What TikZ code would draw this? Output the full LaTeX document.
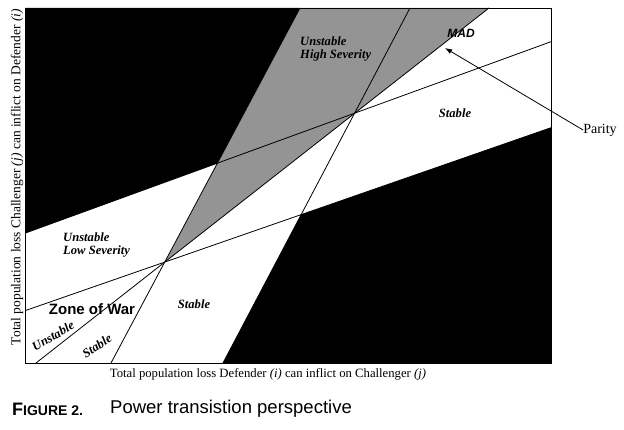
\documentclass[tikz,border=0pt]{standalone}
\usepackage{fontspec}
\setmainfont{Liberation Serif}
\setsansfont{Liberation Sans}
\usetikzlibrary{arrows.meta}
\tikzset{
  boundary/.style={line width=0.8pt},
  regionlabel/.style={font=\fontsize{12.6}{13.5}\selectfont\bfseries\itshape, align=left, inner sep=0pt},
  zonelabel/.style={font=\sffamily\bfseries\fontsize{15}{16}\selectfont, inner sep=0pt},
  axislabel/.style={font=\fontsize{12.7}{13.5}\selectfont, inner sep=0pt}
}
\begin{document}
\begin{tikzpicture}[x=1pt,y=-1pt]
\useasboundingbox (0,0) rectangle (624,430);
% frame corners
\coordinate (tl) at (25,8);
\coordinate (tr) at (551,8);
\coordinate (br) at (551,363);
\coordinate (bl) at (25,363);
% the two crossing points
\coordinate (p1) at (165,262);
\coordinate (p2) at (355,113);
% ends of the five lines
\coordinate (a0) at (111,363);   \coordinate (a1) at (300,8);
\coordinate (b0) at (36,363);    \coordinate (b1) at (489,8);
\coordinate (c0) at (25,310.7);  \coordinate (c1) at (551,127.7);
\coordinate (d0) at (223,363);   \coordinate (d1) at (410,8);
\coordinate (e0) at (25,233.2);  \coordinate (e1) at (551,41.7);
\coordinate (ae) at (intersection of a0--a1 and e0--e1);
\coordinate (cd) at (intersection of c0--c1 and d0--d1);

% shaded regions
\fill[black] (tl) -- (a1) -- (ae) -- (e0) -- cycle;
\fill[black] (d0) -- (cd) -- (c1) -- (br) -- cycle;
\fill[black!42] (p1) -- (a1) -- (b1) -- cycle;

\draw[boundary] (a0) -- (a1);
\draw[boundary] (b0) -- (b1);
\draw[boundary] (c0) -- (c1);
\draw[boundary] (d0) -- (d1);
\draw[boundary] (e0) -- (e1);
\draw[boundary] (tl) rectangle (br);

% region labels
\node[regionlabel, anchor=west] (lowsev) at (63,245) {Unstable\\Low Severity};
\node[regionlabel, anchor=west] (highsev) at (300,49) {Unstable\\High Severity};
\node[font=\sffamily\bfseries\itshape\fontsize{12}{13}\selectfont, inner sep=0pt] (mad) at (461,33) {MAD};
\node[regionlabel] (stableup) at (455,113) {Stable};
\node[regionlabel] (stablemid) at (194,304) {Stable};
\node[zonelabel] (war) at (92,309) {Zone of War};
\node[regionlabel, rotate=30] (unstablelow) at (53,336) {Unstable};
\node[regionlabel, rotate=33] (stablelow) at (97,346) {Stable};

% parity pointer
\coordinate (tip) at (445,48);
\node[font=\fontsize{14}{15}\selectfont, inner sep=0pt] (parity) at (600,130) {Parity};
\draw[line width=0.8pt, -{Latex[length=7pt,width=5pt]}] (parity.west) -- (tip);

% axes
\node[axislabel] (xlab) at (268,374) {Total population loss Defender \textit{(i)} can inflict on Challenger \textit{(j)}};
\node[axislabel, font=\fontsize{13.5}{14}\selectfont, rotate=90] (ylab) at (17,177) {Total population loss Challenger \textit{(j)} can inflict on Defender \textit{(i)}};

% caption
\node[anchor=west, font=\sffamily\bfseries, inner sep=0pt] (fig) at (12,409) {{\fontsize{18}{19}\selectfont F}{\fontsize{14}{15}\selectfont IGURE 2.}};
\node[anchor=west, font=\sffamily\fontsize{18.5}{19}\selectfont, inner sep=0pt] (cap) at (110,409) {Power transistion perspective};
\end{tikzpicture}
\end{document}
